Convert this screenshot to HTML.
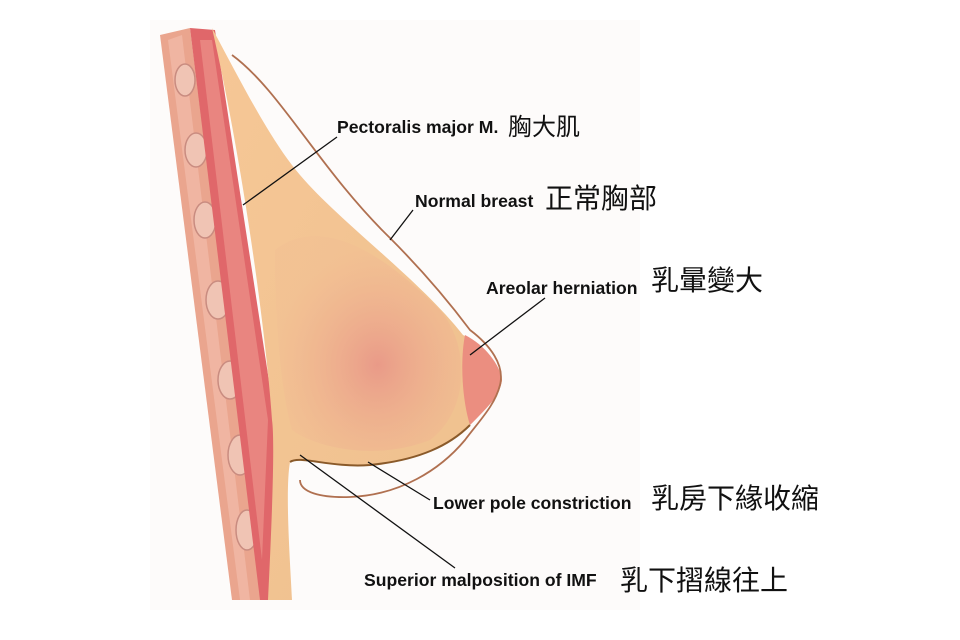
<!DOCTYPE html>
<html><head><meta charset="utf-8"><style>
html,body{margin:0;padding:0;background:#fff;width:960px;height:640px;overflow:hidden}
svg{position:absolute;left:0;top:0}
.l{font-family:"Liberation Sans",Arial,sans-serif;font-weight:bold;font-size:17.6px;fill:#111}
.c{font-family:"Liberation Sans","Noto Sans CJK TC",sans-serif;font-size:28px;fill:#111}
</style></head><body>
<svg width="960" height="640" viewBox="0 0 960 640">
<defs>
<linearGradient id="br" x1="0" y1="0" x2="1" y2="1">
<stop offset="0" stop-color="#f6c796"/><stop offset="1" stop-color="#eec08e"/></linearGradient>
<radialGradient id="gl" cx="0.55" cy="0.6" r="0.55">
<stop offset="0" stop-color="#e99a88"/><stop offset="1" stop-color="#f0b592" stop-opacity="0.2"/></radialGradient>
</defs>
<rect x="150" y="20" width="490" height="590" fill="#fdfbfa"/>
<path d="M160,35 L190,28 L262,600 L232,600 Z" fill="#eaa58e"/>
<path d="M168,40 L182,35 L250,600 L240,600 Z" fill="#f2bcab" opacity="0.7"/>
<g fill="#f0c4b4" stroke="#c98c80" stroke-width="1.5">
<ellipse cx="185" cy="80" rx="10" ry="16"/><ellipse cx="196" cy="150" rx="11" ry="17"/>
<ellipse cx="205" cy="220" rx="11" ry="18"/><ellipse cx="218" cy="300" rx="12" ry="19"/>
<ellipse cx="230" cy="380" rx="12" ry="19"/><ellipse cx="240" cy="455" rx="12" ry="20"/>
<ellipse cx="247" cy="530" rx="11" ry="20"/></g>
<path d="M190,28 L215,30 L275,420 L270,600 L260,600 Z" fill="#e0676a"/>
<path d="M200,40 L212,40 L268,420 L262,560 Z" fill="#ee9a90" opacity="0.6"/>
<path d="M212,28 C240,80 270,140 300,175 C340,222 420,280 463,335 C485,345 500,365 502,380 C500,395 490,405 470,425 C450,445 420,460 370,465 C330,468 300,455 290,462 C285,490 290,560 292,600 L268,600 C272,520 275,440 272,420 C265,320 240,150 212,28 Z" fill="url(#br)"/>
<path d="M275,250 C320,215 380,250 440,310 C470,345 470,410 430,440 C380,460 320,450 292,430 C278,380 275,300 275,250 Z" fill="url(#gl)"/>
<path d="M465,335 C485,345 500,365 502,380 C500,395 490,405 470,425 C462,400 460,360 465,335 Z" fill="#eb8e80"/>
<path d="M290,462 C300,455 330,468 370,465 C420,460 450,445 470,425" fill="none" stroke="#8a5a2a" stroke-width="2"/>
<path d="M232,55 C280,90 320,170 390,238 C430,278 455,310 470,330 C490,345 505,365 500,385 C495,405 480,420 465,440 C440,470 400,495 350,497 C320,498 300,492 300,480" fill="none" stroke="#b07050" stroke-width="1.8"/>
<g stroke="#111" stroke-width="1.3">
<line x1="337" y1="137" x2="243" y2="205"/>
<line x1="413" y1="210" x2="390" y2="240"/>
<line x1="545" y1="298" x2="470" y2="355"/>
<line x1="430" y1="500" x2="368" y2="462"/>
<line x1="455" y1="568" x2="300" y2="455"/>
</g>
<text class="l" x="337" y="133">Pectoralis major M.</text><text class="c" x="508" y="135" style="font-size:24px">胸大肌</text>
<text class="l" x="415" y="207">Normal breast</text><text class="c" x="545" y="208">正常胸部</text>
<text class="l" x="486" y="294">Areolar herniation</text><text class="c" x="651" y="290">乳暈變大</text>
<text class="l" x="433" y="509">Lower pole constriction</text><text class="c" x="651" y="508">乳房下緣收縮</text>
<text class="l" x="364" y="586">Superior malposition of IMF</text><text class="c" x="620" y="590">乳下摺線往上</text>
</svg>
</body></html>
